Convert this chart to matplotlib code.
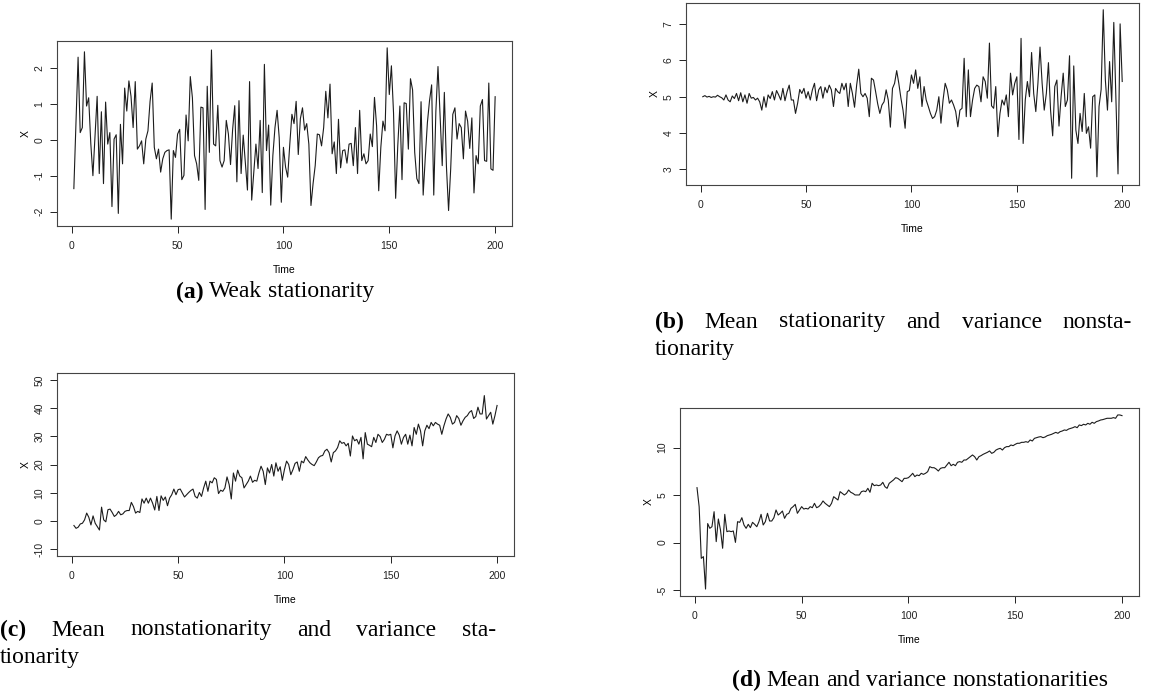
import numpy as np
import matplotlib
matplotlib.use('Agg')
import matplotlib.pyplot as plt

# ---------------- data ----------------
x_ticks = [0, 50, 100, 150, 200]

series_a = [-1.36, 0.5, 2.3, 0.2, 0.34, 2.45, 0.94, 1.17, -0.1, -1.0, 0.1, 1.21, -0.94, 0.78, -1.22, 1.05,
            -0.12, 0.2, -1.86, 0.02, 0.14, -2.05, 0.43, -0.67, 1.44, 0.8, 1.64, 1.21, 0.34, 1.62, -0.26, -0.17,
            -0.03, -0.67, 0.02, 0.25, 1.07, 1.58, -0.21, -0.53, -0.26, -0.9, -0.53, -0.35, -0.3, -0.28, -2.21,
            -0.3, -0.49, 0.16, 0.29, -1.11, -0.99, 0.69, -0.03, 1.76, 1.17, -0.44, -0.67, -1.13, 0.91, 0.89,
            -1.94, 1.49,
            -0.35, 2.5, -0.12, -0.17, 0.96, -0.58, -0.76, -0.58, 0.54, 0.16, -0.69, 0.29, 0.95, -1.17, 1.09,
            -0.94, 0.13, -0.62, -1.4, 1.62, -1.68, -0.9, -0.12, -0.8, 0.54, -1.47, 2.1, -0.3, 0.41, -1.82,
            -0.44, 0.34, 0.82, 0.06, -1.74, -0.21, -0.76, -1.04, -0.12, 0.71, 0.45, 1.07, -0.41, 0.59, 0.89,
            0.27, 0.45, -0.12, -1.83, -1.22, -0.72, 0.16, 0.14, -0.17, 0.34, 1.35, 0.61, 1.55, -0.39, -0.06,
            -0.94, 0.57, -0.78, -0.3, -0.28, -0.65, -0.12,
            -0.1, -0.72, 0.34, -0.94, 0.82, -0.58, -0.39, -0.67, -0.58, 0.16, -0.19, 1.18, 0.39, -1.42, -0.21,
            0.52, 0.25, 2.56, 1.26, 2.06, 0.75, -1.63, -0.17, 0.94, -1.11, 1.03, 1.01, -0.26, 1.7, 1.39, -0.35,
            -1.08, -1.22, 1.06, -1.54, -0.49, 0.48, 1.09, 1.53, -1.54, 0.8, 2.04, 0.66, -0.72, 1.32, -0.76,
            -1.97, -0.81, 0.71, 0.89, 0.02, 0.45, 0.34, -0.53, 0.8, 0.52, -0.24, 0.61, -1.48, -0.44, -0.67,
            0.94, 1.12, -0.58, -0.6, 1.58, -0.81, -0.85, 1.2]

series_b = [5.0, 5.03, 4.99, 5.01, 4.98, 5.0, 4.99, 5.04, 5.0, 4.97, 4.91, 5.05, 4.91, 4.86, 5.02, 4.95,
            5.09, 4.89, 5.11, 4.86, 5.05, 4.82, 5.09, 4.96, 4.98, 4.91, 4.96, 4.86, 4.63, 5.0, 4.71, 5.05,
            4.95, 5.14, 4.91, 5.17, 5.05, 4.91, 5.23, 4.89, 5.14, 5.32, 4.91, 4.91, 4.54, 4.82, 5.2, 5.09,
            5.23, 4.96, 5.14, 4.91, 5.19, 5.37, 4.89, 5.19, 5.28, 4.96, 5.26, 5.11, 5.32, 5.19, 4.73, 5.23,
            5.14,
            5.09, 5.37, 5.19, 5.37, 4.73, 5.37, 5.09, 4.71, 5.32, 5.76, 5.09, 5.0, 5.09, 4.96, 4.45, 5.51,
            5.46, 5.14, 4.8, 4.54, 4.77, 4.86, 5.19, 4.91, 4.16, 5.23, 5.37, 5.72, 5.37, 4.96, 4.63, 4.13,
            5.14, 5.17, 5.6, 5.37, 5.74, 5.23, 5.55, 4.73, 5.28, 4.91, 4.73, 4.54, 4.4, 4.45, 4.63, 5.0,
            4.27, 4.91, 5.37, 5.19, 4.82, 4.91, 4.77, 4.59, 4.17, 4.63, 4.68, 6.06, 4.45, 5.74, 4.45, 4.91,
            5.23, 5.32, 5.28,
            4.86, 5.55, 5.42, 4.96, 6.48, 4.75, 4.68, 5.28, 3.9, 4.54, 4.91, 4.77, 5.05, 4.45, 5.65, 5.05,
            5.37, 5.55, 3.82, 6.61, 3.71, 4.91, 5.42, 5.0, 6.22, 5.09, 4.59, 5.37, 6.37, 5.37, 4.63, 5.09,
            5.94, 4.63, 3.92, 5.28, 5.46, 4.19, 5.0, 5.65, 4.73, 4.91, 6.13, 2.75, 5.85, 4.08, 3.71, 4.54,
            4.04, 5.09, 3.99, 4.17, 3.58, 5.0, 5.05, 2.79, 4.73, 5.2, 7.40, 5.46, 4.63, 5.97, 4.86, 7.05,
            5.0, 2.87, 7.01, 5.42]

series_c = [-1.6, -2.6, -2.2, -1.05, -0.8, 0.4, 2.8, 1.3, -1.4, 1.8, -0.8, -2.0, -3.2, 4.9, 0.4, -0.3,
            4.0, 4.2, 3.0, 1.6, 2.2, 3.4, 2.2, 2.5, 3.4, 3.7, 3.7, 6.6, 5.1, 2.8, 3.4, 3.0, 7.8, 6.3, 8.1,
            6.3, 8.1, 6.3, 3.9, 8.7, 3.7, 8.9, 7.3, 8.5, 5.4, 8.1, 9.3, 11.3, 9.3, 11.1, 11.3, 9.9, 8.5, 9.3,
            10.1, 10.8, 11.3, 8.7, 8.1, 10.1, 8.7, 11.7, 14.1,
            10.5, 14.1, 13.5, 15.3, 14.7, 9.7, 10.9, 10.5, 11.7, 15.6, 12.9, 7.8, 17.0, 14.1, 18.0, 15.9,
            15.3, 11.7, 12.9, 14.1, 15.9, 13.7, 14.4, 14.1, 17.0, 19.4, 17.6, 12.9, 18.8, 17.0, 20.0, 15.9,
            20.6, 17.6, 19.2, 14.4, 18.2, 21.2, 20.0, 16.4, 18.2, 20.4, 20.9, 17.6, 21.2, 20.6, 22.8, 21.6,
            20.6, 20.0, 19.6, 20.9, 22.4, 23.0, 23.2, 24.8, 25.4, 24.2, 20.9, 24.2, 24.8, 26.0, 28.4, 27.5,
            27.8, 26.6, 27.5, 23.0,
            30.1, 28.4, 28.9, 27.2, 29.6, 22.0, 31.3, 27.2, 26.8, 26.3, 29.6, 27.8, 30.7, 29.9, 27.8, 28.9,
            30.7, 30.4, 30.7, 25.9, 30.1, 31.9, 30.4, 27.2, 29.6, 30.7, 27.2, 30.4, 26.6, 33.1, 30.7, 34.3,
            31.9, 26.6, 31.9, 33.9, 32.7, 34.9, 33.7, 34.9, 34.3, 33.9, 30.7, 33.7, 36.1, 37.9, 36.7, 34.3,
            34.9, 37.3, 36.3, 33.9, 35.5, 36.7, 37.3, 38.5, 39.1, 36.3, 37.0, 40.3, 37.9, 37.9, 44.4, 36.1,
            37.3, 38.5, 34.3, 37.3, 40.9]
ylim_c = (-10, 50)

series_d = [5.78, 3.78, -1.66, -1.48, -4.89, 2.0, 1.5, 1.67, 3.25, 0.1, 2.48, 1.32, -0.6, 2.97, 1.15,
            1.22, 1.15, 1.22, 0.02, 2.2, 2.13, 2.62, 1.85, 1.5, 1.92, 1.57, 2.13, 1.92, 1.67, 2.2, 2.97,
            1.85, 2.2, 3.08, 2.27, 2.27, 2.62, 3.43, 2.9, 3.08, 3.32, 2.55, 2.97, 3.08, 3.6, 3.78, 4.02,
            3.08, 3.43, 3.78, 3.53, 3.6, 3.53, 3.78, 3.67, 4.13, 3.67, 3.78, 4.02, 4.38, 4.13, 3.95, 3.78,
            4.13, 4.83, 4.66, 4.48, 5.36, 5.18, 5.01, 5.18, 5.53, 5.29, 5.18, 5.01, 5.01, 5.01, 5.36, 5.43,
            5.36, 5.71, 5.29, 6.24, 5.99, 6.06, 5.99, 6.06, 6.34, 5.88, 5.71, 6.24, 6.41, 6.59, 6.83, 6.76,
            6.59, 6.41, 6.76, 6.76, 6.83, 7.04, 7.29, 6.94, 7.11, 7.04, 7.29, 7.18, 7.29, 7.46, 7.99, 7.88,
            7.88, 7.74, 7.53, 7.81, 7.88, 7.88, 8.16, 8.45, 8.09, 8.24, 8.09, 8.45, 8.52, 8.45, 8.69, 8.69,
            8.87, 9.04, 9.22,
            9.04, 8.69, 9.04, 9.15, 9.29, 9.39, 9.5, 9.64, 9.39, 9.5, 9.74, 9.85, 9.92, 9.74, 9.99, 10.1,
            10.1, 10.27, 10.2, 10.34, 10.45, 10.45, 10.55, 10.55, 10.62, 10.55, 10.8, 10.69, 10.97, 11.04,
            11.11, 11.15, 11.04, 11.11, 11.25, 11.32, 11.39, 11.5, 11.6, 11.5, 11.67, 11.74, 11.85, 11.81,
            11.95, 12.02, 12.09, 12.2, 12.09, 12.38, 12.31, 12.45, 12.38, 12.55, 12.45, 12.66, 12.55, 12.73,
            12.8, 12.9, 12.94, 13.01, 13.08, 13.08, 13.08, 13.15, 13.08, 13.43, 13.43, 13.36]

yticks_a = [-2, -1, 0, 1, 2]
yticks_b = [3, 4, 5, 6, 7]
yticks_c = [-10, 0, 10, 20, 30, 40, 50]
yticks_d = [-5, 0, 5, 10]

captions = [("(a)", "Weak stationarity"),
            ("(b)", "Mean stationarity and variance nonsta-", "tionarity"),
            ("(c)", "Mean nonstationarity and variance sta-", "tionarity"),
            ("(d)", "Mean and variance nonstationarities")]

# ---------------- figure ----------------
W, H = 1152, 699
fig = plt.figure(figsize=(W / 100, H / 100), dpi=100)
plt.rcParams['font.family'] = ['Liberation Sans', 'DejaVu Sans']


def rect(l, t, r, b):
    return [l / W, 1 - b / H, (r - l) / W, (b - t) / H]


def panel(box, y, yticks, ylim=None):
    ax = fig.add_axes(rect(*box))
    t = np.arange(1, len(y) + 1)
    ax.plot(t, y, color='#1c1c1c', lw=0.8)
    ax.margins(x=0.04, y=0.04)
    if ylim is not None:
        span = ylim[1] - ylim[0]
        ax.set_ylim(ylim[0] - 0.04 * span, ylim[1] + 0.04 * span)
    ax.set_xticks(x_ticks)
    ax.set_yticks(yticks)
    ax.set_yticklabels([str(v) for v in yticks], rotation=90, va='center')
    ax.tick_params(length=5, width=0.7, labelsize=7.5, colors='#222222')
    ax.tick_params(axis='x', pad=6)
    ax.tick_params(axis='y', pad=4)
    for s in ax.spines.values():
        s.set_linewidth(0.8)
        s.set_color('#444444')
    ax.set_xlabel('Time', fontsize=7.5, labelpad=10)
    ax.set_ylabel('X', fontsize=7.5, labelpad=3)
    return ax


panel((57, 41, 512, 226), series_a, yticks_a)
panel((686, 3, 1139, 185), series_b, yticks_b)
panel((57, 373, 514, 556), series_c, yticks_c, ylim_c)
panel((680, 408, 1139, 596), series_d, yticks_d)

renderer = fig.canvas.get_renderer()
CAP = dict(family=['Liberation Serif', 'DejaVu Serif'], fontsize=17, va='center')


def width(txt, **kw):
    t = fig.text(0, 0, txt, **CAP, **kw)
    w = t.get_window_extent(renderer).width
    t.remove()
    return w


def caption(x, y, parts, center=False, right=None, line2=None, dy=28):
    label, body = parts
    words = body.split(' ')
    wl = width(label, fontweight='bold')
    ww = [width(w) for w in words]
    space = width('a b') - width('ab')
    if right is not None:
        gap = (right - x - wl - sum(ww)) / len(words)
        x0 = x
    else:
        gap = space
        total = wl + sum(ww) + gap * len(words)
        x0 = x - total / 2 if center else x
    fig.text(x0 / W, 1 - y / H, label, fontweight='bold', **CAP)
    cx = x0 + wl + gap
    for w, wd in zip(words, ww):
        fig.text(cx / W, 1 - y / H, w, **CAP)
        cx += wd + gap
    if line2:
        fig.text(x0 / W, 1 - (y + dy) / H, line2, **CAP)


caption(275, 292, captions[0], center=True)
caption(655, 322, captions[1][:2], right=1132, line2=captions[1][2])
caption(0, 630, captions[2][:2], right=496, line2=captions[2][2])
caption(920, 680, captions[3], center=True)

fig.savefig('out.png', dpi=100)
